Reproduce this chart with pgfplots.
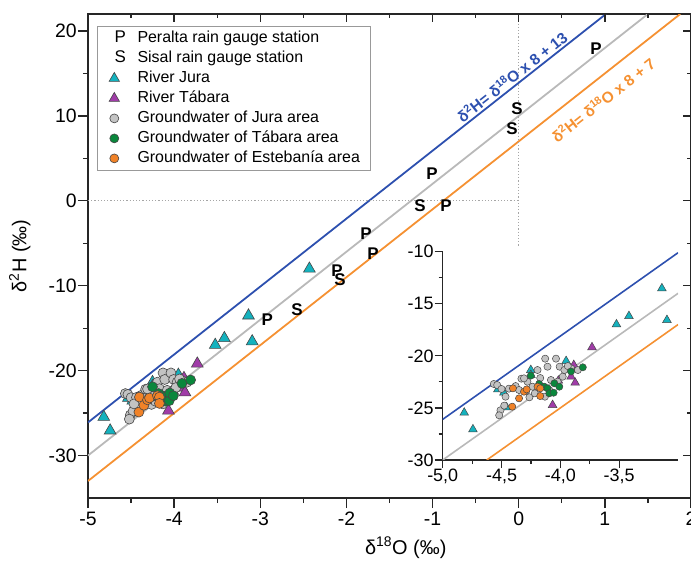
\documentclass[border=0pt]{standalone}
\usepackage{fontspec}
\setmainfont{Liberation Sans}
\usepackage{pgfplots}
\usepackage{pgfplotstable}
\pgfplotsset{compat=1.18}
\definecolor{cyanT}{RGB}{20,178,190}
\definecolor{magT}{RGB}{160,60,168}
\definecolor{grayC}{RGB}{195,195,195}
\definecolor{greenC}{RGB}{10,135,60}
\definecolor{orangeC}{RGB}{240,130,40}
\definecolor{blueL}{RGB}{45,80,175}
\definecolor{grayL}{RGB}{185,185,185}
\definecolor{orangeL}{RGB}{245,145,50}
\definecolor{edgeC}{RGB}{70,70,70}
\newcommand{\fs}[1]{\fontsize{#1}{#1}\selectfont}

\pgfplotstableread{
x y
-4.817 -25.46
-4.743 -27.06
-4.531 -23.22
-4.480 -23.54
-4.457 -24.94
-4.251 -21.36
-4.251 -21.84
-3.951 -20.50
-3.523 -16.98
-3.417 -16.18
-3.137 -13.52
-3.094 -16.56
-2.430 -8.00
}\jura
\pgfplotstableread{
x y
-3.731 -19.18
-3.886 -20.88
-3.909 -22.00
-3.874 -22.58
-4.017 -22.38
-4.066 -24.72
}\tabara
\pgfplotstableread{
x y
-4.566 -22.70
-4.537 -22.80
-4.500 -23.18
-4.437 -23.15
-4.509 -25.23
-4.477 -24.78
-4.520 -25.71
-4.466 -23.92
-4.380 -22.90
-4.331 -22.19
-4.280 -22.48
-4.289 -23.34
-4.263 -23.98
-4.217 -23.60
-4.237 -22.96
-4.194 -21.36
-4.171 -22.13
-4.163 -22.96
-4.129 -20.27
-4.109 -21.04
-4.080 -22.32
-4.094 -23.28
-4.131 -23.92
-4.037 -20.27
-4.023 -22.48
-4.006 -21.04
-3.966 -21.36
-3.909 -21.20
-3.851 -21.36
-3.980 -22.00
-3.937 -20.98
-4.351 -23.28
-4.309 -22.16
}\gwjura
\pgfplotstableread{
x y
-4.251 -21.90
-4.180 -22.70
-4.137 -22.96
-4.109 -23.12
-4.094 -23.60
-4.057 -23.54
-4.051 -22.64
-4.009 -22.96
-3.909 -21.50
-3.809 -21.10
}\gwtabara
\pgfplotstableread{
x y
-4.403 -23.12
-4.409 -24.88
-4.351 -24.08
-4.309 -23.44
-4.286 -23.22
-4.194 -22.96
-4.171 -23.12
-4.171 -23.86
}\gwesteb
\pgfplotstableread{
x y
0.897 17.88
-1.007 3.18
-0.844 -0.59
-1.773 -3.88
-1.692 -6.24
-2.110 -8.24
-2.920 -14.00
}\peralta
\pgfplotstableread{
x y
-0.020 10.82
-0.078 8.47
-1.146 -0.59
-2.075 -9.29
-2.574 -12.82
}\sisal

\begin{document}
\begin{tikzpicture}
% main axis
\begin{axis}[
  at={(0,0)}, anchor=south west,
  scale only axis, width=603bp, height=484bp,
  xmin=-5, xmax=2, ymin=-35, ymax=22,
  xtick={-5,-4,...,2}, ytick={-30,-20,...,20},
  minor x tick num=1, minor y tick num=1,
  xtick pos=bottom, ytick pos=left, tick align=outside,
  major tick length=10bp, minor tick length=5bp,
  axis line style={line width=1.6bp, black!85},
  every tick/.style={black!85, line width=1.3bp},
  tick label style={font=\fs{19.5}, inner sep=1bp},
  xticklabel style={yshift=-3bp},
  /pgf/number format/assume math mode=true,
  xlabel={δ\textsuperscript{18}O (‰)},
  ylabel={δ\textsuperscript{2}H (‰)},
  label style={font=\fs{20}},
  xlabel style={at={(axis description cs:0.527,-0.103)}, anchor=center},
  ylabel style={at={(axis description cs:-0.113,0.5)}, anchor=center},
  legend style={at={(axis description cs:0,1)}, anchor=north west,
    xshift=9bp, yshift=-12bp, draw=gray!80, line width=0.8bp,
    font=\fs{16}, inner xsep=8bp, inner ysep=2bp, column sep=9bp,
    nodes={inner sep=2.5bp, text height=11.5bp, text depth=3.5bp}},
  legend cell align=left,
]
\addplot[blueL, line width=1.8bp, forget plot] coordinates {(-5,-26.1) (1.0125,22)};
\addplot[grayL, line width=1.8bp, forget plot] coordinates {(-5,-30) (1.5,22)};
\addplot[orangeL, line width=1.8bp, forget plot] coordinates {(-5,-33) (1.875,22)};
\addplot[gray!70, line width=1.2bp, dash pattern=on 1.2bp off 2bp, forget plot] coordinates {(-5,0) (0,0)};
\addplot[gray!70, line width=1.2bp, dash pattern=on 1.2bp off 2bp, forget plot] coordinates {(0,22) (0,-5.4)};

\addplot[only marks, mark=text, text mark={P}, text mark as node=true,
  text mark style={font=\bfseries\fs{17}}, forget plot] table {\peralta};
\addplot[only marks, mark=text, text mark={S}, text mark as node=true,
  text mark style={font=\bfseries\fs{17}}, forget plot] table {\sisal};

\addplot[only marks, mark=triangle*, mark size=6.8bp, mark options={fill=cyanT, draw=edgeC, line width=0.6bp}, forget plot] table {\jura};
\addplot[only marks, mark=triangle*, mark size=6.8bp, mark options={fill=magT, draw=edgeC, line width=0.6bp}, forget plot] table {\tabara};
\addplot[only marks, mark=*, mark size=5bp, mark options={fill=grayC, draw=edgeC, line width=0.6bp}, forget plot] table {\gwjura};
\addplot[only marks, mark=*, mark size=5bp, mark options={fill=greenC, draw=edgeC, line width=0.6bp}, forget plot] table {\gwtabara};
\addplot[only marks, mark=*, mark size=5bp, mark options={fill=orangeC, draw=edgeC, line width=0.6bp}, forget plot] table {\gwesteb};

\node[rotate=38.2, text=blueL, font=\bfseries\fs{15.5}] at (axis cs:-0.078,14.6) {δ\textsuperscript{2}H= δ\textsuperscript{18}O x 8 + 13};
\node[rotate=38.2, text=orangeL, font=\bfseries\fs{15.5}] at (axis cs:0.979,11.9) {δ\textsuperscript{2}H= δ\textsuperscript{18}O x 8 + 7};

\addlegendimage{legend image code/.code={\path (0cm,0cm) (0.6cm,0cm); \node[font=\fs{17}, inner sep=0pt] at (0.3cm,0cm) {P};}}
\addlegendentry{Peralta rain gauge station}
\addlegendimage{legend image code/.code={\path (0cm,0cm) (0.6cm,0cm); \node[font=\fs{17}, inner sep=0pt] at (0.3cm,0cm) {S};}}
\addlegendentry{Sisal rain gauge station}
\addlegendimage{only marks, mark=triangle*, mark size=6bp, mark options={fill=cyanT, draw=edgeC, line width=0.6bp}}
\addlegendentry{River Jura}
\addlegendimage{only marks, mark=triangle*, mark size=6bp, mark options={fill=magT, draw=edgeC, line width=0.6bp}}
\addlegendentry{River Tábara}
\addlegendimage{only marks, mark=*, mark size=4.5bp, mark options={fill=grayC, draw=edgeC, line width=0.6bp}}
\addlegendentry{Groundwater of Jura area}
\addlegendimage{only marks, mark=*, mark size=4.5bp, mark options={fill=greenC, draw=edgeC, line width=0.6bp}}
\addlegendentry{Groundwater of Tábara area}
\addlegendimage{only marks, mark=*, mark size=4.5bp, mark options={fill=orangeC, draw=edgeC, line width=0.6bp}}
\addlegendentry{Groundwater of Estebanía area}
\end{axis}
% top/right inward ticks
\begin{axis}[
  at={(0,0)}, anchor=south west,
  scale only axis, width=603bp, height=484bp,
  xmin=-5, xmax=2, ymin=-35, ymax=22,
  xtick={-5,-4,...,2}, ytick={-30,-20,...,20},
  minor x tick num=1, minor y tick num=1,
  xtick pos=top, ytick pos=right, tick align=inside,
  major tick length=8bp, minor tick length=4bp,
  axis line style={draw=none},
  every tick/.style={black!85, line width=1.3bp},
  xticklabels={}, yticklabels={},
]
\end{axis}
% inset
\begin{axis}[
  at={(354.7bp,38bp)}, anchor=south west,
  scale only axis, width=235.3bp, height=208.3bp,
  xmin=-5, xmax=-3, ymin=-30, ymax=-10,
  axis x line*=bottom, axis y line*=left,
  axis line style={-, line width=1.4bp, black!85},
  xtick={-5,-4.5,-4,-3.5}, ytick={-30,-25,...,-10},
  minor x tick num=1, minor y tick num=1,
  tick align=outside, major tick length=8bp, minor tick length=4bp,
  every tick/.style={black!85, line width=1.2bp},
  tick label style={font=\fs{18}, inner sep=1bp},
  xticklabel style={/pgf/number format/.cd, use comma, fixed, fixed zerofill, precision=1},
  /pgf/number format/assume math mode=true,
]
\addplot[blueL, line width=1.6bp] coordinates {(-5,-26.1) (-3,-10.1)};
\addplot[grayL, line width=1.6bp] coordinates {(-5,-30) (-3,-14)};
\addplot[orangeL, line width=1.6bp] coordinates {(-4.625,-30) (-3,-17)};
\addplot[only marks, mark=triangle*, mark size=5bp, mark options={fill=cyanT, draw=edgeC, line width=0.5bp}] table {\jura};
\addplot[only marks, mark=triangle*, mark size=5bp, mark options={fill=magT, draw=edgeC, line width=0.5bp}] table {\tabara};
\addplot[only marks, mark=*, mark size=3.6bp, mark options={fill=grayC, draw=edgeC, line width=0.5bp}] table {\gwjura};
\addplot[only marks, mark=*, mark size=3.6bp, mark options={fill=greenC, draw=edgeC, line width=0.5bp}] table {\gwtabara};
\addplot[only marks, mark=*, mark size=3.6bp, mark options={fill=orangeC, draw=edgeC, line width=0.5bp}] table {\gwesteb};
\end{axis}
\pgfresetboundingbox
\useasboundingbox (-88bp,-66bp) rectangle (603bp,498bp);
\end{tikzpicture}
\end{document}
